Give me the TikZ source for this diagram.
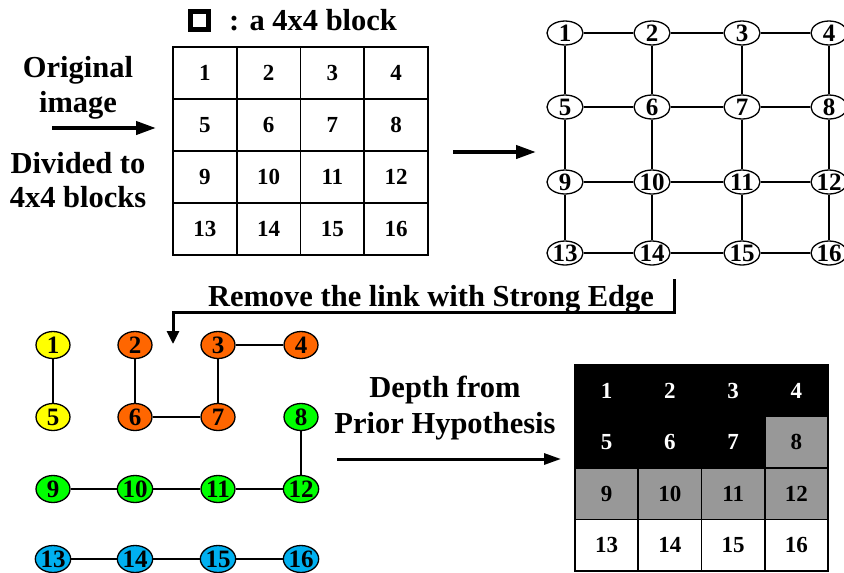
\documentclass[tikz,border=0pt]{standalone}
\usepackage{fontspec}
\setmainfont{Liberation Serif}
\usetikzlibrary{shapes.geometric,arrows.meta}
\definecolor{segyellow}{RGB}{255,255,0}
\definecolor{segorange}{RGB}{255,102,0}
\definecolor{seggreen}{RGB}{0,255,0}
\definecolor{segcyan}{RGB}{0,176,240}
\definecolor{depthgray}{RGB}{152,152,152}
\begin{document}
\begin{tikzpicture}[x=1pt,y=-1pt,
  caption/.style={font=\fontsize{30.5}{36}\selectfont\bfseries, anchor=base, inner sep=0},
  cell/.style={draw, line width=1.6pt, minimum width=63.75pt, minimum height=52pt,
    inner sep=0, font=\fontsize{23}{26}\selectfont\bfseries},
  dcell/.style={draw, line width=1.6pt, minimum width=63.25pt, minimum height=51.5pt,
    inner sep=0, font=\fontsize{23}{26}\selectfont\bfseries},
  gnode/.style={draw, ellipse, line width=1.3pt, minimum width=36pt, minimum height=24pt,
    inner sep=0, font=\fontsize{25}{26}\selectfont\bfseries},
  cnode/.style={gnode, minimum width=34pt, minimum height=27pt},
  link/.style={line width=1.3pt},
  bigarrow/.style={line width=4pt, -{Triangle[length=20pt,width=13pt]}},
  thinarrow/.style={line width=3pt, -{Triangle[length=17pt,width=11pt]}}]

\useasboundingbox (0,0) rectangle (844,573);

% legend
\node[draw, line width=5pt, minimum size=18pt, inner sep=0] (legend) at (199,20) {};
\node[caption, anchor=base west] (legendtext) at (229,30) {: a 4x4 block};

% left captions and arrow
\node[caption] (orig1) at (78,77) {Original};
\node[caption] (orig2) at (78,112) {image};
\node[caption] (div1) at (78,173) {Divided to};
\node[caption] (div2) at (78,207) {4x4 blocks};
\coordinate (a1s) at (52,128);
\coordinate (a1e) at (156,128);
\draw[bigarrow] (a1s) -- (a1e);

% 4x4 block table
\foreach \r in {0,...,3}
  \foreach \c in {1,...,4} {
    \pgfmathtruncatemacro\n{4*\r+\c}
    \node[cell] (t\n) at ({173+63.75*(\c-0.5)},{47+52*(\r+0.5)}) {\n};
  }

% arrow to the block graph
\coordinate (a2s) at (453,152);
\coordinate (a2e) at (536,152);
\draw[bigarrow] (a2s) -- (a2e);

% block graph
\foreach \c/\x in {1/565,2/652,3/742,4/829}
  \foreach \r/\y in {0/33,1/107,2/182,3/253} {
    \pgfmathtruncatemacro\n{4*\r+\c}
    \node[gnode] (g\n) at (\x,\y) {\n};
  }
\foreach \n in {1,2,3,5,6,7,9,10,11,13,14,15} {
  \pgfmathtruncatemacro\m{\n+1}
  \draw[link] (g\n) -- (g\m);
}
\foreach \n in {1,...,12} {
  \pgfmathtruncatemacro\m{\n+4}
  \draw[link] (g\n) -- (g\m);
}

% removal step
\node[caption] (remove) at (431,306) {Remove the link with Strong Edge};
\coordinate (r1) at (674,279);
\coordinate (r2) at (674,312);
\coordinate (r3) at (173,312);
\coordinate (r4) at (173,344);
\draw[line width=3pt, -{Triangle[length=13pt,width=12pt]}] (r1) -- (r2) -- (r3) -- (r4);

% segmented graph
\foreach \c/\x in {1/53,2/135,3/218,4/301}
  \foreach \r/\y in {0/345,1/417,2/489,3/559} {
    \pgfmathtruncatemacro\n{4*\r+\c}
    \ifcase\n\or
      \def\col{segyellow}\or\def\col{segorange}\or\def\col{segorange}\or\def\col{segorange}\or
      \def\col{segyellow}\or\def\col{segorange}\or\def\col{segorange}\or\def\col{seggreen}\or
      \def\col{seggreen}\or\def\col{seggreen}\or\def\col{seggreen}\or\def\col{seggreen}\or
      \def\col{segcyan}\or\def\col{segcyan}\or\def\col{segcyan}\or\def\col{segcyan}\fi
    \node[cnode, fill=\col] (c\n) at (\x,\y) {\n};
  }
\draw[link] (c1) -- (c5);
\draw[link] (c2) -- (c6);
\draw[link] (c6) -- (c7);
\draw[link] (c3) -- (c7);
\draw[link] (c3) -- (c4);
\draw[link] (c8) -- (c12);
\draw[link] (c9) -- (c10);
\draw[link] (c10) -- (c11);
\draw[link] (c11) -- (c12);
\draw[link] (c13) -- (c14);
\draw[link] (c14) -- (c15);
\draw[link] (c15) -- (c16);

% depth step
\node[caption] (depth1) at (445,397) {Depth from};
\node[caption] (depth2) at (445,433) {Prior Hypothesis};
\coordinate (a3s) at (337,459);
\coordinate (a3e) at (561,459);
\draw[thinarrow] (a3s) -- (a3e);

% depth map
\foreach \r in {0,...,3}
  \foreach \c in {1,...,4} {
    \pgfmathtruncatemacro\n{4*\r+\c}
    \ifnum\n<8
      \node[dcell, fill=black, text=white] (d\n) at ({575+63.25*(\c-0.5)},{365+51.5*(\r+0.5)}) {\n};
    \else\ifnum\n<13
      \node[dcell, fill=depthgray] (d\n) at ({575+63.25*(\c-0.5)},{365+51.5*(\r+0.5)}) {\n};
    \else
      \node[dcell, fill=white] (d\n) at ({575+63.25*(\c-0.5)},{365+51.5*(\r+0.5)}) {\n};
    \fi\fi
  }
\end{tikzpicture}
\end{document}
